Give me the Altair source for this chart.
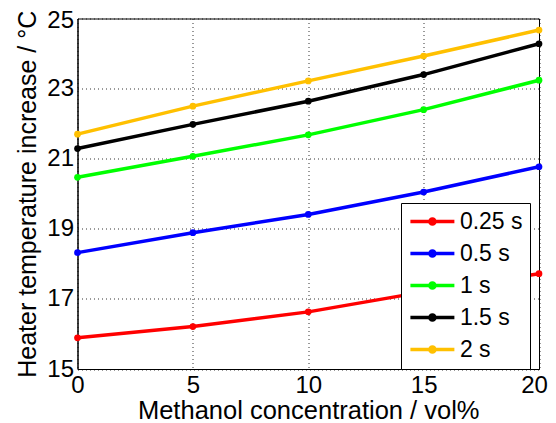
import altair as alt
import pandas as pd

conc = [0, 5, 10, 15, 20]
series_names = ["0.25 s", "0.5 s", "1 s", "1.5 s", "2 s"]
s025 = [15.89, 16.21, 16.63, 17.2, 17.72]
s05 = [18.32, 18.89, 19.41, 20.05, 20.77]
s1 = [20.47, 21.07, 21.68, 22.40, 23.24]
s15 = [21.29, 21.98, 22.64, 23.40, 24.28]
s2 = [21.70, 22.50, 23.22, 23.93, 24.67]
colors = ["#FF0000", "#0000FF", "#00FF00", "#000000", "#FFC000"]
x_ticks = [0, 5, 10, 15, 20]
y_ticks = [15, 17, 19, 21, 23, 25]

rows = []
for name, vals in zip(series_names, [s025, s05, s1, s15, s2]):
    for c, v in zip(conc, vals):
        rows.append({"conc": c, "temp": v, "series": name})
df = pd.DataFrame(rows)

FONT = "Liberation Sans"

color = alt.Color(
    "series:N",
    scale=alt.Scale(domain=series_names, range=colors),
    legend=alt.Legend(
        title=None,
        orient="none",
        legendX=323.5,
        legendY=184.5,
        fillColor="white",
        strokeColor="black",
        padding=7,
        symbolType="M-3,0H3M-0.35,0A0.35,0.35,0,1,0,0.35,0A0.35,0.35,0,1,0,-0.35,0",
        symbolSize=215,
        symbolStrokeWidth=3.5,
        symbolOffset=12.9,
        labelOffset=16,
        labelFontSize=23,
        labelFont=FONT,
        labelColor="black",
        rowPadding=8,
    ),
)

x = alt.X(
    "conc:Q",
    scale=alt.Scale(domain=[0, 20], nice=False),
    axis=alt.Axis(
        values=x_ticks,
        title="Methanol concentration / vol%",
        labelFontSize=24,
        titleFontSize=25.5,
        labelPadding=4,
        labelFlush=False,
        labelOffset={"condition": {"test": "datum.value == 20", "value": -5}, "value": 0},
        titleBaseline="alphabetic",
        titleY=49,
    ),
)
y = alt.Y(
    "temp:Q",
    scale=alt.Scale(domain=[15, 25], nice=False, zero=False),
    axis=alt.Axis(
        values=y_ticks,
        title="Heater temperature increase / °C",
        labelFontSize=24,
        titleFontSize=25,
        labelPadding=4,
        titlePadding=6,
        labelFlush=False,
        labelOffset={"condition": {"test": "datum.value == 25", "value": 1.5}, "value": 0},
    ),
)

base = alt.Chart(df).encode(x=x, y=y, color=color, order="conc:Q")
lines = base.mark_line(strokeWidth=3.5)
points = base.mark_circle(size=45, opacity=1)

chart = (
    alt.layer(lines, points)
    .properties(
        width=461.5,
        height=350.5,
        autosize=alt.AutoSizeParams(type="none"),
        padding={"left": 69.5, "top": 10.5, "right": 9, "bottom": 54},
        background="white",
    )
    .configure_view(stroke="black", strokeWidth=1)
    .configure_axis(
        labelFont=FONT,
        titleFont=FONT,
        labelColor="black",
        titleColor="black",
        titleFontWeight="normal",
        domainColor="black",
        ticks=False,
        grid=True,
        gridColor="black",
        gridDash=[1, 3],
        gridWidth=1,
        gridOpacity=0.8,
    )
)

chart.save("out.html", embed_options={"renderer": "svg", "actions": False})
